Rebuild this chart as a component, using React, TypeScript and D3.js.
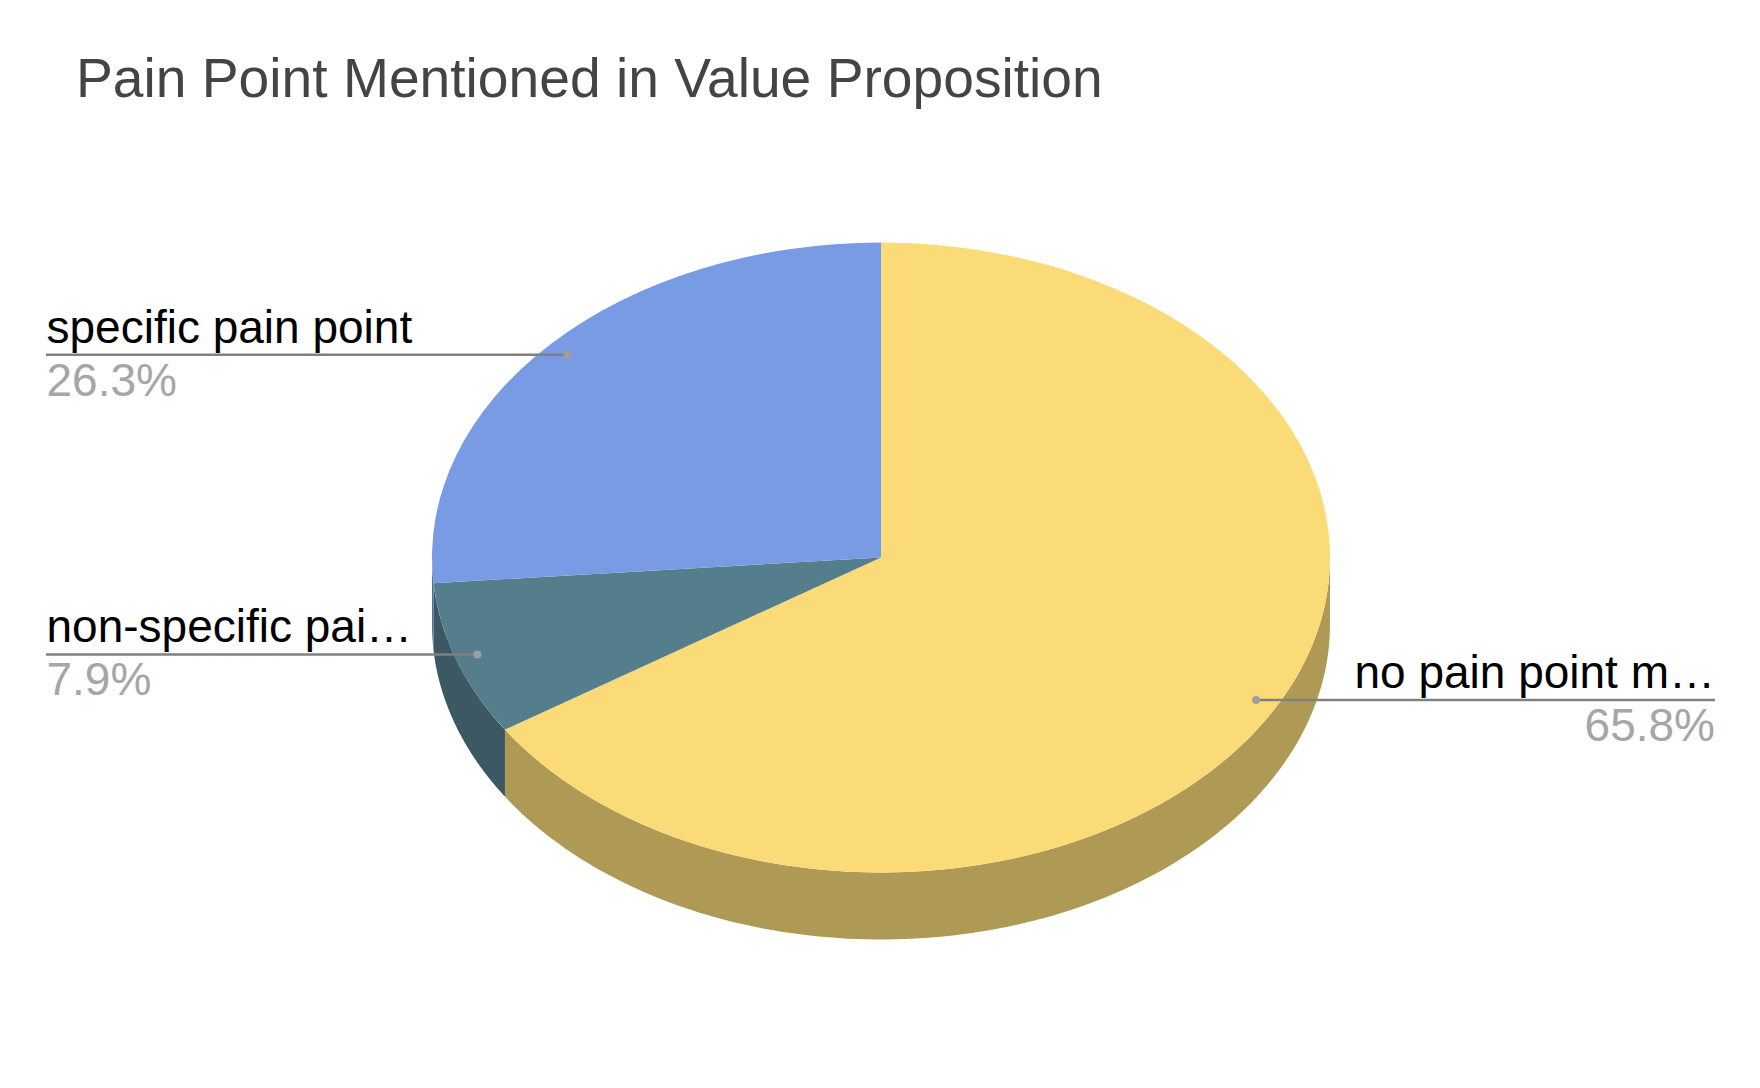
import React from 'react';
import * as d3 from 'd3';

const titleText = 'Pain Point Mentioned in Value Proposition';
const categories = ['no pain point m…', 'non-specific pai…', 'specific pain point'];
const values = [65.8, 7.9, 26.3];
const valueLabels = ['65.8%', '7.9%', '26.3%'];
const topColors = ['#fadb78', '#557e8c', '#789be4'];
const wallColors = ['#ae9a54', '#3c5862', '#546da0'];

const width = 1760;
const height = 1088;
const cx = 881;
const cy = 557.5;
const rx = 449;
const ry = 315;
const depth = 67;
const leaderLeft = 46;
const leaderRight = 1715;

const FONT = '"Liberation Sans", Arial, sans-serif';

const slices = d3.pie<number>().sort(null)(values);
const arc = d3.arc<d3.PieArcDatum<number>>().innerRadius(0).outerRadius(rx);

// d3 angle (clockwise from 12 o'clock) to a point on the squashed rim
const rim = (a: number, f = 1): [number, number] => [
  cx + rx * f * Math.sin(a),
  cy - ry * f * Math.cos(a),
];

// only the front half of the rim (90deg to 270deg) shows a wall
const wallPath = (s: d3.PieArcDatum<number>) => {
  const a0 = Math.max(s.startAngle, Math.PI / 2);
  const a1 = Math.min(s.endAngle, (3 * Math.PI) / 2);
  if (a1 <= a0) return null;
  const steps = d3.range(0, 121).map((i) => a0 + ((a1 - a0) * i) / 120);
  const top = steps.map((a) => rim(a));
  const bottom = steps
    .slice()
    .reverse()
    .map((a) => {
      const [x, y] = rim(a);
      return [x, y + depth] as [number, number];
    });
  return d3.line()([...top, ...bottom]) + 'Z';
};

export default function App() {
  return (
    <svg
      width={width}
      height={height}
      viewBox={`0 0 ${width} ${height}`}
      style={{ position: 'absolute', left: 0, top: 0, display: 'block', background: '#fff' }}
      fontFamily={FONT}
    >
      <text x={76} y={97} fontSize={55.2} fill="#444444">
        {titleText}
      </text>

      {slices.map((s, i) => {
        const d = wallPath(s);
        return d ? <path key={i} d={d} fill={wallColors[i]} /> : null;
      })}

      <g transform={`translate(${cx},${cy}) scale(1,${ry / rx})`}>
        {slices.map((s, i) => (
          <path key={i} d={arc(s) as string} fill={topColors[i]} />
        ))}
      </g>

      {slices.map((s, i) => {
        const mid = (s.startAngle + s.endAngle) / 2;
        const [dx, dy] = rim(mid, 0.95);
        const onRight = dx > cx;
        const end = onRight ? leaderRight : leaderLeft;
        const textX = onRight ? end : end + 0.5;
        const anchor = onRight ? 'end' : 'start';
        return (
          <g key={i}>
            <text x={textX} y={dy - 12} fontSize={46} fill="#000000" textAnchor={anchor}>
              {categories[i]}
            </text>
            <text x={textX} y={dy + 41} fontSize={46} fill="#a6a6a6" textAnchor={anchor}>
              {valueLabels[i]}
            </text>
            <line x1={end} x2={dx} y1={dy} y2={dy} stroke="#808080" strokeWidth={2.4} />
            <circle cx={dx} cy={dy} r={4} fill="#9e9e9e" />
          </g>
        );
      })}
    </svg>
  );
}
